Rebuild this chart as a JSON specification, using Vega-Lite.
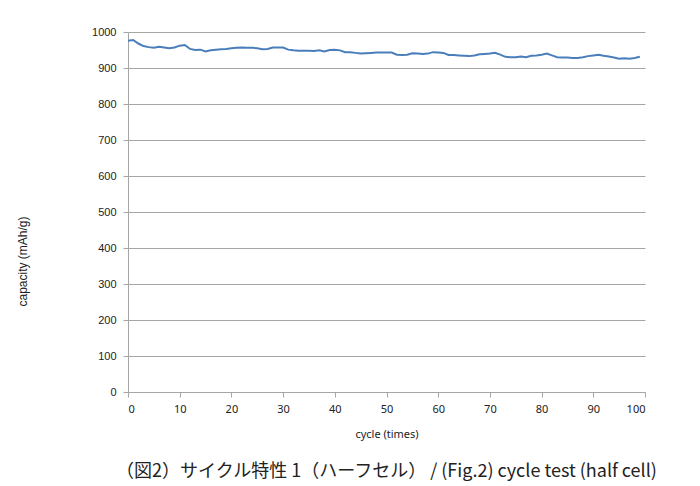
{
  "$schema": "https://vega.github.io/schema/vega-lite/v6.json",
  "width": 517,
  "height": 360,
  "autosize": {"type": "none"},
  "padding": {"left": 128, "top": 32, "right": 55, "bottom": 94},
  "background": "white",
  "config": {"view": {"stroke": null}},
  "title": {
    "text": "（図2）サイクル特性 1（ハーフセル） / (Fig.2) cycle test (half cell)",
    "orient": "bottom",
    "anchor": "middle",
    "font": "Noto Sans CJK JP",
    "fontSize": 18,
    "fontWeight": "normal",
    "color": "#222222",
    "offset": 24,
    "dx": 0
  },
  "data": {
    "values": [
      {"cycle": 0, "capacity": 976}, {"cycle": 1, "capacity": 978}, {"cycle": 2, "capacity": 968}, {"cycle": 3, "capacity": 961}, {"cycle": 4, "capacity": 958},
      {"cycle": 5, "capacity": 956}, {"cycle": 6, "capacity": 959}, {"cycle": 7, "capacity": 957}, {"cycle": 8, "capacity": 955}, {"cycle": 9, "capacity": 957},
      {"cycle": 10, "capacity": 962}, {"cycle": 11, "capacity": 964}, {"cycle": 12, "capacity": 953}, {"cycle": 13, "capacity": 950}, {"cycle": 14, "capacity": 951},
      {"cycle": 15, "capacity": 946}, {"cycle": 16, "capacity": 949}, {"cycle": 17, "capacity": 951}, {"cycle": 18, "capacity": 952}, {"cycle": 19, "capacity": 953},
      {"cycle": 20, "capacity": 955}, {"cycle": 21, "capacity": 956}, {"cycle": 22, "capacity": 957}, {"cycle": 23, "capacity": 956}, {"cycle": 24, "capacity": 956},
      {"cycle": 25, "capacity": 955}, {"cycle": 26, "capacity": 952}, {"cycle": 27, "capacity": 953}, {"cycle": 28, "capacity": 957}, {"cycle": 29, "capacity": 957},
      {"cycle": 30, "capacity": 957}, {"cycle": 31, "capacity": 951}, {"cycle": 32, "capacity": 949}, {"cycle": 33, "capacity": 948}, {"cycle": 34, "capacity": 948},
      {"cycle": 35, "capacity": 948}, {"cycle": 36, "capacity": 947}, {"cycle": 37, "capacity": 949}, {"cycle": 38, "capacity": 946}, {"cycle": 39, "capacity": 950},
      {"cycle": 40, "capacity": 951}, {"cycle": 41, "capacity": 949}, {"cycle": 42, "capacity": 944}, {"cycle": 43, "capacity": 944}, {"cycle": 44, "capacity": 942},
      {"cycle": 45, "capacity": 940}, {"cycle": 46, "capacity": 941}, {"cycle": 47, "capacity": 942}, {"cycle": 48, "capacity": 943}, {"cycle": 49, "capacity": 943},
      {"cycle": 50, "capacity": 943}, {"cycle": 51, "capacity": 943}, {"cycle": 52, "capacity": 937}, {"cycle": 53, "capacity": 936}, {"cycle": 54, "capacity": 937},
      {"cycle": 55, "capacity": 941}, {"cycle": 56, "capacity": 940}, {"cycle": 57, "capacity": 939}, {"cycle": 58, "capacity": 940}, {"cycle": 59, "capacity": 944},
      {"cycle": 60, "capacity": 943}, {"cycle": 61, "capacity": 942}, {"cycle": 62, "capacity": 936}, {"cycle": 63, "capacity": 936}, {"cycle": 64, "capacity": 935},
      {"cycle": 65, "capacity": 934}, {"cycle": 66, "capacity": 933}, {"cycle": 67, "capacity": 935}, {"cycle": 68, "capacity": 938}, {"cycle": 69, "capacity": 939},
      {"cycle": 70, "capacity": 940}, {"cycle": 71, "capacity": 942}, {"cycle": 72, "capacity": 937}, {"cycle": 73, "capacity": 931}, {"cycle": 74, "capacity": 930},
      {"cycle": 75, "capacity": 930}, {"cycle": 76, "capacity": 932}, {"cycle": 77, "capacity": 930}, {"cycle": 78, "capacity": 934}, {"cycle": 79, "capacity": 935},
      {"cycle": 80, "capacity": 937}, {"cycle": 81, "capacity": 940}, {"cycle": 82, "capacity": 935}, {"cycle": 83, "capacity": 930}, {"cycle": 84, "capacity": 929},
      {"cycle": 85, "capacity": 929}, {"cycle": 86, "capacity": 928}, {"cycle": 87, "capacity": 928}, {"cycle": 88, "capacity": 930}, {"cycle": 89, "capacity": 933},
      {"cycle": 90, "capacity": 935}, {"cycle": 91, "capacity": 937}, {"cycle": 92, "capacity": 934}, {"cycle": 93, "capacity": 932}, {"cycle": 94, "capacity": 929},
      {"cycle": 95, "capacity": 926}, {"cycle": 96, "capacity": 927}, {"cycle": 97, "capacity": 926}, {"cycle": 98, "capacity": 928}, {"cycle": 99, "capacity": 931}
    ]
  },
  "mark": {"type": "line", "color": "#4a7ebb", "strokeWidth": 2},
  "encoding": {
    "x": {
      "field": "cycle",
      "type": "quantitative",
      "scale": {"domain": [0, 100], "nice": false},
      "axis": {
        "title": "cycle (times)",
        "values": [0, 10, 20, 30, 40, 50, 60, 70, 80, 90, 100],
        "format": "d",
        "grid": false,
        "domainColor": "#a6a6a6",
        "tickColor": "#a6a6a6",
        "tickSize": 5,
        "labelFont": "Noto Sans",
        "labelFontSize": 11,
        "labelColor": "#222222",
        "labelPadding": 6,
        "titleFont": "Noto Sans",
        "titleFontSize": 11,
        "titleFontWeight": "normal",
        "titleColor": "#222222",
        "titlePadding": 14
      }
    },
    "y": {
      "field": "capacity",
      "type": "quantitative",
      "scale": {"domain": [0, 1000], "nice": false},
      "axis": {
        "title": "capacity (mAh/g)",
        "values": [0, 100, 200, 300, 400, 500, 600, 700, 800, 900, 1000],
        "format": "d",
        "grid": true,
        "gridColor": "#a6a6a6",
        "gridWidth": 1,
        "domainColor": "#a6a6a6",
        "tickColor": "#a6a6a6",
        "tickSize": 5,
        "labelFont": "Liberation Sans",
        "labelFontSize": 11,
        "labelColor": "#222222",
        "labelPadding": 7,
        "titleFont": "Liberation Sans",
        "titleFontSize": 12,
        "titleFontWeight": "normal",
        "titleColor": "#222222",
        "titlePadding": 62,
        "titleY": 229
      }
    }
  }
}
